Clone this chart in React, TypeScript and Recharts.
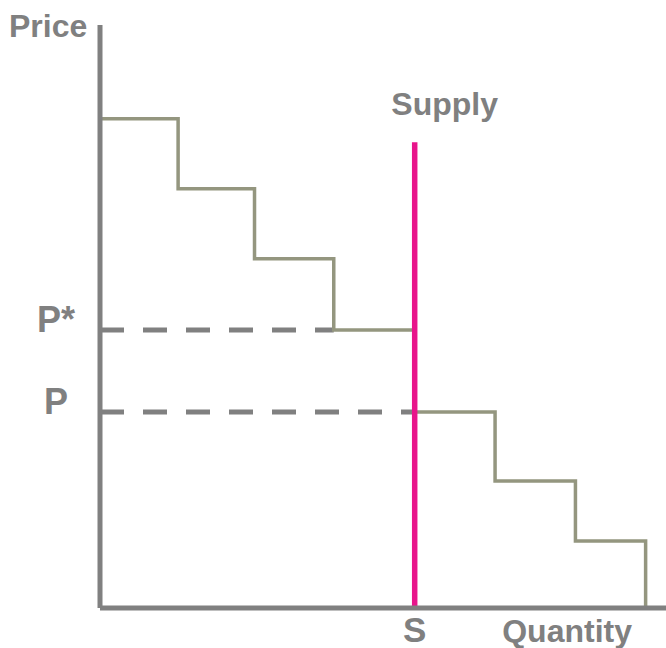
import { LineChart, Line, XAxis, YAxis, ReferenceLine, Label } from 'recharts';

// step demand curve: each point starts a horizontal step (stepAfter)
const DEMAND_QTY = [0, 13.8, 27.3, 41.3, 55.6, 69.8, 84.0, 96.4];
const DEMAND_PRICE = [83.9, 71.9, 59.9, 47.7, 33.6, 21.8, 11.5, 0];

const SUPPLY_QTY = 55.6;
const SUPPLY_TOP = 79.9;

const P_STAR = 47.7;
const P_LOW = 33.6;

const Y_TICKS = [P_LOW, P_STAR];
const Y_TICK_LABELS = ['P', 'P*'];
const X_TICKS = [SUPPLY_QTY];
const X_TICK_LABELS = ['S'];

const demandData = DEMAND_QTY.map((q, i) => ({ q, p: DEMAND_PRICE[i] }));
const supplyData = [
  { q: SUPPLY_QTY, p: 0 },
  { q: SUPPLY_QTY, p: SUPPLY_TOP },
];

const GREY = '#808080';
const FONT = '"Liberation Sans", Arial, sans-serif';
const textStyle = { fill: GREY, fontFamily: FONT, fontWeight: 700, fontSize: 32 };

function YTick({ y, payload }: any) {
  const i = Y_TICKS.indexOf(payload.value);
  return (
    <text x={56} y={y + 2} textAnchor="middle" {...textStyle} fontSize={36}>
      {Y_TICK_LABELS[i]}
    </text>
  );
}

function XTick({ x, y, payload }: any) {
  const i = X_TICKS.indexOf(payload.value);
  return (
    <text x={x} y={y + 26} textAnchor="middle" {...textStyle} fontSize={35}>
      {X_TICK_LABELS[i]}
    </text>
  );
}

export default function App() {
  return (
    <div style={{ position: 'absolute', left: 0, top: 0, width: 666, height: 648, background: '#fff' }}>
      <LineChart width={666} height={648} margin={{ top: 25, right: 0, left: 0, bottom: 0 }}>
        <XAxis
          type="number" dataKey="q" domain={[0, 100]} height={40}
          ticks={X_TICKS} tick={<XTick />} tickLine={false}
          axisLine={{ stroke: GREY, strokeWidth: 5 }}
        >
          <Label
            content={({ viewBox }: any) => (
              <text x={viewBox.x + viewBox.width - 34} y={642} textAnchor="end" {...textStyle}>
                Quantity
              </text>
            )}
          />
        </XAxis>
        <YAxis
          type="number" dataKey="p" domain={[0, 100]} width={100}
          ticks={Y_TICKS} tick={<YTick />} tickLine={false}
          axisLine={{ stroke: GREY, strokeWidth: 5 }}
        >
          <Label
            content={({ viewBox }: any) => (
              <text x={9} y={viewBox.y + 12} {...textStyle}>
                Price
              </text>
            )}
          />
        </YAxis>

        <ReferenceLine
          segment={[{ x: 0, y: P_STAR }, { x: DEMAND_QTY[3], y: P_STAR }]}
          stroke={GREY} strokeWidth={5} strokeDasharray="24 19"
        />
        <ReferenceLine
          segment={[{ x: 0, y: P_LOW }, { x: SUPPLY_QTY, y: P_LOW }]}
          stroke={GREY} strokeWidth={5} strokeDasharray="24 19"
        />

        <Line
          data={demandData} dataKey="p" type="stepAfter"
          stroke="#94967f" strokeWidth={3.5} dot={false} activeDot={false}
          isAnimationActive={false}
        />
        <Line
          data={supplyData} dataKey="p" type="linear"
          stroke="#e8158b" strokeWidth={5.5} dot={false} activeDot={false}
          isAnimationActive={false}
        />
        <ReferenceLine
          segment={[{ x: SUPPLY_QTY, y: SUPPLY_TOP }, { x: SUPPLY_QTY, y: SUPPLY_TOP }]}
          stroke="none"
        >
          <Label
            content={({ viewBox }: any) => (
              <text x={viewBox.x + 30} y={viewBox.y - 27} textAnchor="middle" {...textStyle}>
                Supply
              </text>
            )}
          />
        </ReferenceLine>
      </LineChart>
    </div>
  );
}
